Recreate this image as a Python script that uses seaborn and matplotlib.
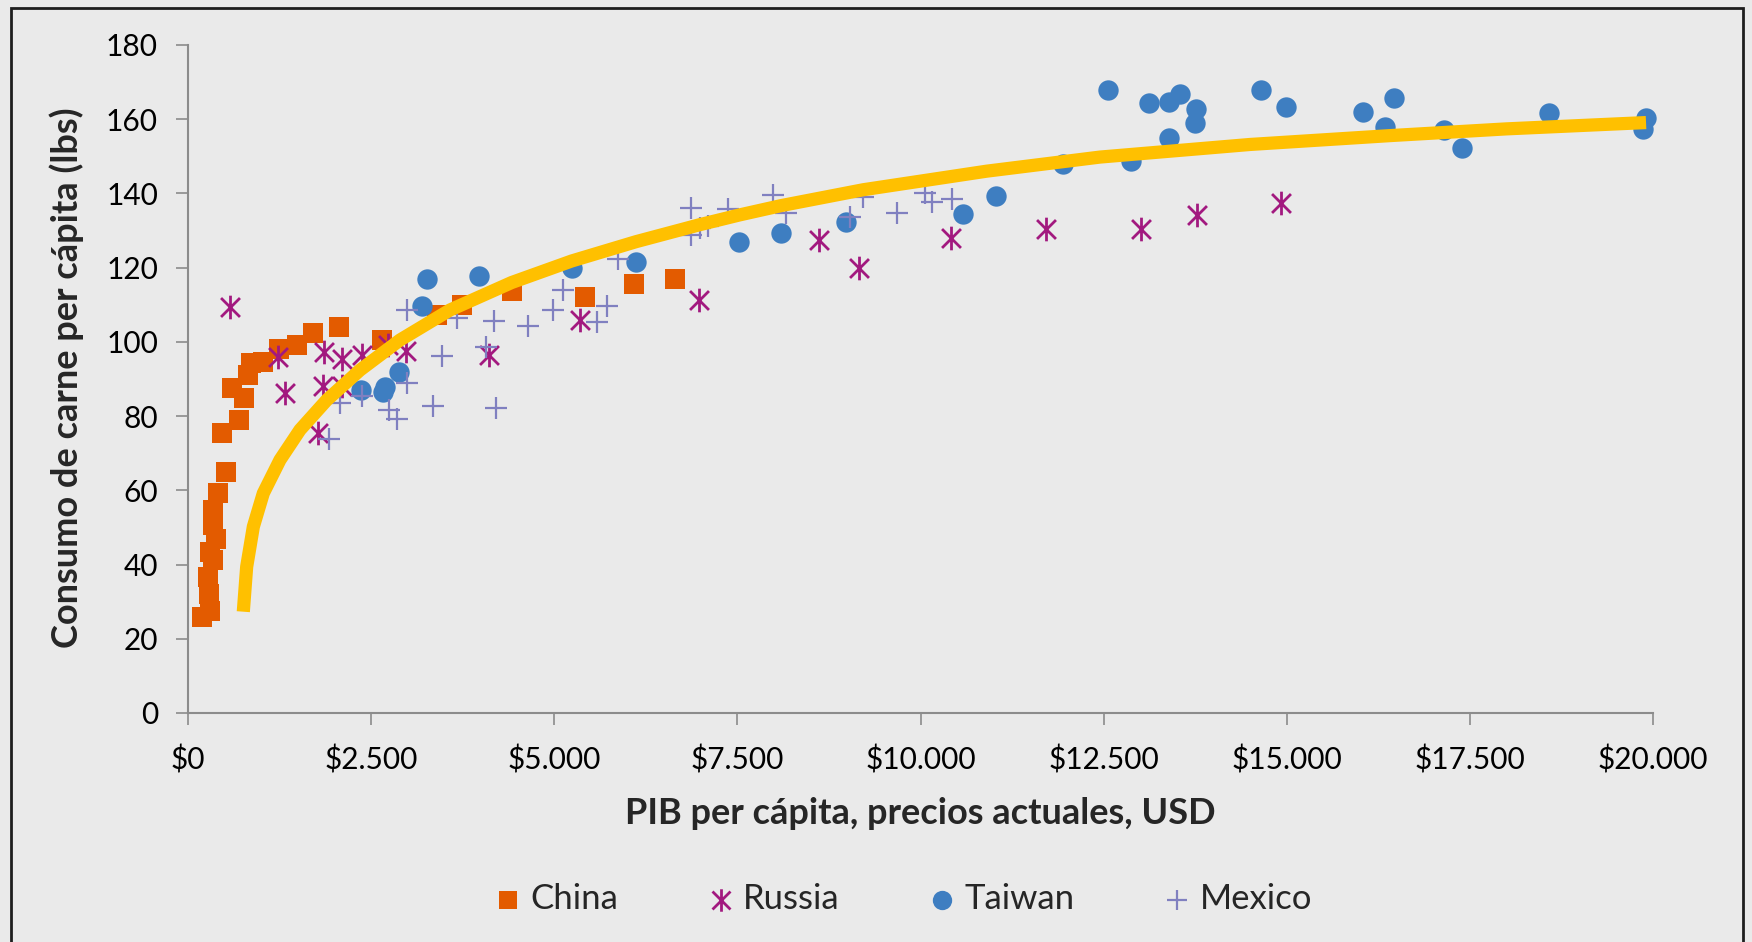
import numpy as np
import matplotlib
matplotlib.use("Agg")
import matplotlib.pyplot as plt
import seaborn as sns
from matplotlib.path import Path
from matplotlib.patches import Rectangle
from matplotlib.ticker import FuncFormatter

# ---------------- data ----------------
china_x = [187, 300, 291, 278, 337, 300, 378, 346, 346, 414, 519, 469, 696, 764, 596, 815, 856,
           1028, 1242, 1484, 1711, 2061, 2644, 3404, 3745, 4419, 5420, 6093, 6647]
china_y = [25.9, 27.5, 32.2, 36.7, 41.2, 43.5, 47.0, 50.7, 54.7, 59.2, 65.0, 75.4, 79.0, 84.8, 87.7, 91.0, 94.2,
           94.7, 98.0, 99.2, 102.5, 104.1, 100.5, 107.2, 109.9, 113.7, 112.2, 115.5, 116.9]

russia_x = [573, 1233, 1324, 1770, 1848, 1861, 2098, 2098, 2371, 2726, 2976, 4114, 5352, 6972,
            8619, 9160, 10412, 11709, 13006, 13773, 14920]
russia_y = [109.5, 95.8, 86.1, 75.5, 88.1, 97.4, 95.3, 88.1, 96.6, 99.2, 97.5, 96.6, 105.9, 111.4,
            127.5, 120.0, 127.9, 130.3, 130.3, 134.2, 137.3]

taiwan_x = [2358, 2689, 2666, 2881, 3190, 3258, 3973, 5238, 6116, 7527, 8092, 8979, 10580, 11035,
            11945, 12553, 12877, 13114, 13387, 13387, 13545, 13756, 13745, 14652, 14993, 16037,
            16344, 16463, 17140, 17388, 18587, 19905, 19863]
taiwan_y = [87.0, 87.9, 86.6, 92.0, 109.6, 116.9, 117.8, 119.9, 121.4, 126.8, 129.3, 132.2, 134.5, 139.2,
            147.8, 167.9, 148.7, 164.5, 164.6, 155.0, 166.9, 162.8, 159.1, 167.9, 163.4, 162.0,
            157.8, 165.8, 157.1, 152.3, 161.8, 160.4, 157.3]

mexico_x = [1929, 2075, 2371, 2749, 2849, 2985, 3349, 3463, 2985, 3668, 4182, 4637, 4988, 5124,
            4073, 4205, 5579, 5725, 5866, 6867, 6867, 6990, 7103, 7376, 7982, 8164, 9037, 9219,
            9675, 10061, 10153, 10425]
mexico_y = [73.8, 83.5, 85.4, 81.7, 79.2, 89.0, 82.8, 96.2, 108.7, 106.5, 105.6, 104.3, 108.6, 113.9,
            98.5, 82.1, 105.4, 109.7, 122.3, 136.0, 128.8, 130.6, 131.2, 135.7, 139.6, 134.6, 133.6, 139.1,
            134.6, 140.2, 137.8, 138.4]

trend_x = [755, 801, 892, 1028, 1256, 1529, 1893, 2348, 2894, 3577, 4419, 5238, 6116, 6990,
           7527, 8092, 9219, 10903, 12450, 14500, 16424, 18000, 19905]
trend_y = [27.3, 39.4, 50.2, 59.2, 68.2, 76.3, 84.3, 92.4, 100.5, 108.6, 116.0, 121.8, 127.0, 131.6,
           134.2, 136.7, 141.0, 146.0, 149.8, 153.2, 155.6, 157.4, 159.1]

series_names = ["China", "Russia", "Taiwan", "Mexico"]
x_ticks = [0, 2500, 5000, 7500, 10000, 12500, 15000, 17500, 20000]
y_ticks = [0, 20, 40, 60, 80, 100, 120, 140, 160, 180]

# ---------------- style ----------------
BG = "#EAEAEA"
C_CHINA = "#E35B00"
C_RUSSIA = "#A2197F"
C_TAIWAN = "#3E7EC1"
C_MEXICO = "#8080C0"
C_TREND = "#FFC000"

sns.set_theme(style="white")
plt.rcParams['font.family'] = ['Lato', 'DejaVu Sans']

fig = plt.figure(figsize=(17.52, 9.42), dpi=100, facecolor=BG)
ax = fig.add_axes([188 / 1752, 229 / 942, 1465 / 1752, 668 / 942])
ax.set_facecolor(BG)

# asterisk marker: vertical line + X
ast = Path([(0, -1), (0, 1), (-0.8, -0.8), (0.8, 0.8), (-0.8, 0.8), (0.8, -0.8)],
           [Path.MOVETO, Path.LINETO, Path.MOVETO, Path.LINETO, Path.MOVETO, Path.LINETO])

sns.scatterplot(x=china_x, y=china_y, marker="s", s=200, color=C_CHINA, linewidth=0,
                ax=ax, label=series_names[0], zorder=3, clip_on=False)
sns.scatterplot(x=russia_x, y=russia_y, marker=ast, s=290, color=C_RUSSIA, edgecolor=C_RUSSIA,
                linewidth=2.0, ax=ax, label=series_names[1], zorder=3, clip_on=False)
sns.scatterplot(x=taiwan_x, y=taiwan_y, marker="o", s=215, color=C_TAIWAN, linewidth=0,
                ax=ax, label=series_names[2], zorder=3, clip_on=False)
sns.scatterplot(x=mexico_x, y=mexico_y, marker="+", s=230, color=C_MEXICO, linewidth=1.6,
                ax=ax, label=series_names[3], zorder=3, clip_on=False)
sns.lineplot(x=trend_x, y=trend_y, color=C_TREND, linewidth=9.5, ax=ax, zorder=5,
             estimator=None, legend=False, solid_capstyle="butt", solid_joinstyle="round")

ax.set_xlim(0, 20000)
ax.set_ylim(0, 180)
ax.set_xticks(x_ticks)
ax.set_yticks(y_ticks)
ax.xaxis.set_major_formatter(FuncFormatter(lambda v, p: "${:,}".format(int(v)).replace(",", ".")))

for s in ["top", "right"]:
    ax.spines[s].set_visible(False)
for s in ["left", "bottom"]:
    ax.spines[s].set_visible(True)
    ax.spines[s].set_color("#8C8C8C")
    ax.spines[s].set_linewidth(1.5)

ax.tick_params(axis="both", direction="out", length=8.6, width=1.2, color="#8C8C8C",
               labelsize=21.5, labelcolor="black")
ax.tick_params(axis="y", pad=13, left=True)
ax.tick_params(axis="x", pad=15, bottom=True)
ax.grid(False)

ax.set_xlabel("PIB per cápita, precios actuales, USD", fontsize=26, fontweight="bold")
ax.set_ylabel("Consumo de carne per cápita (lbs)", fontsize=26, fontweight="bold")
ax.xaxis.set_label_coords(0.5, -0.150)
ax.xaxis.label.set_va("center")
ax.yaxis.set_label_coords(-0.0825, 0.502)
ax.yaxis.label.set_va("center")

handles, labels = ax.get_legend_handles_labels()
ax.legend(handles, labels, loc="center", bbox_to_anchor=(0.515, 0.0456),
          bbox_transform=fig.transFigure, ncol=4, frameon=False, fontsize=25,
          markerscale=0.95, columnspacing=2.5, handletextpad=0.2, handlelength=0.9)

# outer frame (bottom is cut off in the reference)
fig.add_artist(Rectangle((11 / 1752, -0.2), (1743 - 11) / 1752, 1 - 8 / 942 + 0.2,
                         transform=fig.transFigure, fill=False, edgecolor="#1E1E1E",
                         linewidth=2.0, clip_on=False))

fig.savefig("out.png", dpi=100, facecolor=BG)
